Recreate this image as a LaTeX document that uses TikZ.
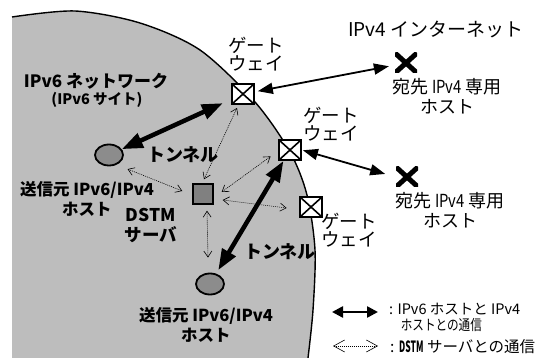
\documentclass[tikz,border=0pt]{standalone}
\usepackage{fontspec}
\setmainfont{Noto Sans CJK JP}
\usepackage{graphicx}
\usetikzlibrary{arrows.meta,shapes.geometric}
\newcommand{\cnd}[1]{\scalebox{0.82}[1]{#1}}
\begin{document}
\begin{tikzpicture}[x=1pt,y=-1pt,
 txt/.style={inner sep=0pt, align=center, font=\fontsize{18}{20}\selectfont},
 txtb/.style={inner sep=0pt, align=center, font=\bfseries\fontsize{16.5}{20}\selectfont},
 gwl/.style={inner sep=0pt, align=left, font=\fontsize{18.5}{18}\selectfont},
 gw/.style={draw, line width=1.8pt, fill=white, minimum width=22pt, minimum height=20pt, inner sep=0pt,
   path picture={\draw[line width=1.6pt] (path picture bounding box.north west) -- (path picture bounding box.south east)
     (path picture bounding box.north east) -- (path picture bounding box.south west);}},
 srvbox/.style={draw, line width=1.4pt, fill=black!50, minimum size=20pt, inner sep=0pt},
 hostell/.style={ellipse, draw, line width=1.8pt, fill=black!45, minimum width=28pt, minimum height=21pt, inner sep=0pt},
 destx/.style={minimum width=22pt, minimum height=20pt, inner sep=0pt,
   path picture={\draw[line width=5pt] (path picture bounding box.north west) -- (path picture bounding box.south east)
     (path picture bounding box.north east) -- (path picture bounding box.south west);}},
 tunnel/.style={line width=4.5pt, {Triangle[length=21pt,width=15pt]}-{Triangle[length=21pt,width=15pt]}},
 comm/.style={line width=1.8pt, {Triangle[length=15pt,width=11pt]}-{Triangle[length=15pt,width=11pt]}},
 dsarr/.style={line width=0.6pt, dash pattern=on 1pt off 1pt, {Straight Barb[length=6pt,width=8pt]}-{Straight Barb[length=6pt,width=8pt]}},
 legcomm/.style={line width=2.5pt, {Triangle[length=11pt,width=11pt]}-{Triangle[length=11pt,width=11pt]}},
 legds/.style={line width=0.6pt, dash pattern=on 1pt off 1pt, {Straight Barb[length=11pt,width=12pt]}-{Straight Barb[length=11pt,width=12pt]}},
]
\useasboundingbox (0,0) rectangle (539,358);
% IPv6 site region
\fill[black!26] (12,358) -- (12,17) -- plot[smooth] coordinates {(12,17) (75,11) (140,23) (200,50) (255,102) (290,152) (307,195) (315,250) (313,310) (308,358)} -- cycle;
\draw[line width=1.4pt] plot[smooth] coordinates {(12,17) (75,11) (140,23) (200,50) (255,102) (290,152) (307,195) (315,250) (313,310) (308,358)};

% nodes
\node[gw] (g1) at (243,94) {};
\node[gw] (g2) at (290,150) {};
\node[gw] (g3) at (311,207) {};
\node[srvbox] (srv) at (203,194) {};
\node[hostell] (h1) at (109,155) {};
\node[hostell] (h2) at (210,284) {};
\node[destx] (d1) at (406,63) {};
\node[destx] (d2) at (407,177) {};

% texts
\node[txt, font=\fontsize{19}{22}\selectfont] (ttl) at (436,29) {IPv4 インターネット};
\node[txtb, font=\bfseries\fontsize{17}{20}\selectfont] (net6) at (96,81) {IPv6 ネットワーク};
\node[txtb, font=\bfseries\fontsize{14.5}{16}\selectfont] (site6) at (97,100) {(IPv6 サイト)};
\node[gwl] (gl1) at (256,54) {ゲート\\ウェイ};
\node[gwl] (gl2) at (331,124) {ゲート\\ウェイ};
\node[gwl] (gl3) at (349,230) {ゲート\\ウェイ};
\node[txt] (dl1) at (447,96) {宛先 \cnd{IPv4} 専用\\ホスト};
\node[txt] (dl2) at (450,210) {宛先 \cnd{IPv4} 専用\\ホスト};
\node[txtb, font=\bfseries\fontsize{18}{20}\selectfont] (tn1) at (183,155) {トンネル};
\node[txtb, font=\bfseries\fontsize{18}{20}\selectfont] (tn2) at (280,252) {トンネル};
\node[txtb] (hl1) at (87,199) {送信元 IPv6/IPv4\\ホスト};
\node[txtb, font=\bfseries\fontsize{17.5}{20}\selectfont] (sl) at (151,226) {DSTM\\サーバ};
\node[txtb] (hl2) at (206,325) {送信元 IPv6/IPv4\\ホスト};

% tunnels and IPv4 communication
\draw[tunnel, shorten >=9pt] (h1) -- (g1);
\draw[tunnel, shorten <=4pt] (h2) -- (g2);
\draw[comm, shorten <=3pt, shorten >=6pt] (g1) -- (d1);
\draw[comm, shorten <=1pt, shorten >=11pt] (g2.east) -- (d2.west);

% DSTM server communication
\draw[dsarr] ([shift={(-6,3)}]g1.south) -- ([shift={(1,-4)}]srv.north);
\draw[dsarr] ([shift={(8,-2)}]srv.east) -- ([shift={(-7.5,-4.5)}]g2.south west);
\draw[dsarr] ([shift={(9,6)}]srv.east) -- ([shift={(-12.5,1)}]g3.west);
\draw[dsarr] ([shift={(4,6)}]srv.south) -- ([shift={(-2,-15)}]h2.north);
\draw[dsarr] ([shift={(8,6)}]h1.south east) -- ([shift={(-10,-3)}]srv.west);

% legend
\coordinate (la1) at (332,312);
\coordinate (lb1) at (378,312);
\coordinate (la2) at (333,346);
\coordinate (lb2) at (378,346);
\draw[legcomm] (la1) -- (lb1);
\draw[legds] (la2) -- (lb2);
\node[txt, anchor=west, align=left, font=\fontsize{14.5}{16}\selectfont] (lg1) at (389,317) {: IPv6 ホストと IPv4\\\hspace*{0.8em}\scalebox{0.8}[1]{ホストとの通信}};
\node[txt, anchor=west, align=left, font=\fontsize{15.5}{18}\selectfont] (lg2) at (390,347) {: \scalebox{0.55}[1]{\bfseries DSTM} サーバとの通信};
\end{tikzpicture}
\end{document}
